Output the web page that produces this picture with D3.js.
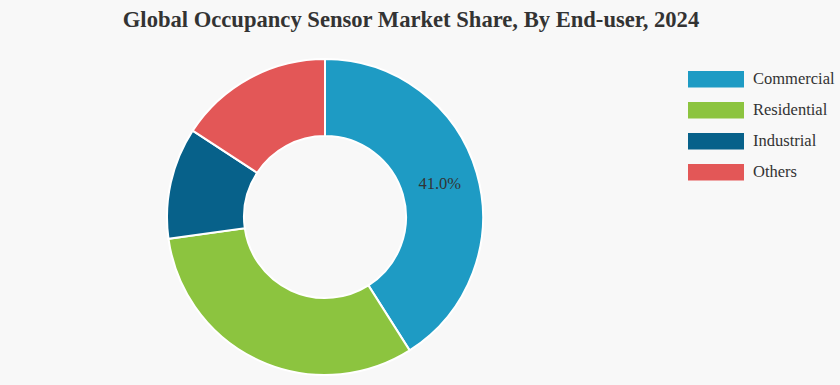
<!DOCTYPE html>
<html>
<head>
<meta charset="utf-8">
<script src="https://cdn.jsdelivr.net/npm/d3@7"></script>
<style>
  body { margin: 0; background: #f8f8f8; }
  svg { display: block; }
</style>
</head>
<body>
<div id="chart"></div>
<script>
// data
var categories = ["Commercial", "Residential", "Industrial", "Others"];
var shares = [41.0, 31.8, 11.4, 15.8];
var colors = ["#1e9bc4", "#8cc43f", "#07618a", "#e35757"];
var titleText = "Global Occupancy Sensor Market Share, By End-user, 2024";

var width = 840, height = 385;
var cx = 325, cy = 217;
var outerR = 158, innerR = 81;

var svg = d3.select("#chart")
    .append("svg")
    .attr("width", width)
    .attr("height", height);

svg.append("rect")
    .attr("width", width)
    .attr("height", height)
    .attr("fill", "#f8f8f8");

// title
svg.append("text")
    .attr("x", 411)
    .attr("y", 27)
    .attr("text-anchor", "middle")
    .style("font-family", "'Liberation Serif', 'Times New Roman', serif")
    .style("font-weight", "bold")
    .style("font-size", "22.6px")
    .attr("fill", "#333")
    .text(titleText);

var data = categories.map(function (c, i) { return {name: c, value: shares[i]}; });

var color = d3.scaleOrdinal()
    .domain(categories)
    .range(colors);

var pie = d3.pie()
    .sort(null)
    .value(function (d) { return d.value; });

var arc = d3.arc()
    .innerRadius(innerR)
    .outerRadius(outerR);

var g = svg.append("g")
    .attr("transform", "translate(" + cx + "," + cy + ")");

var arcs = pie(data);

g.selectAll("path")
    .data(arcs)
    .enter()
    .append("path")
    .attr("d", arc)
    .attr("fill", function (d) { return color(d.data.name); })
    .attr("stroke", "#ffffff")
    .attr("stroke-width", 2);

// only the biggest slice carries a label in the reference
g.selectAll("text.lbl")
    .data(arcs.filter(function (d) { return d.data.name === "Commercial"; }))
    .enter()
    .append("text")
    .attr("class", "lbl")
    .attr("transform", function (d) { return "translate(" + arc.centroid(d) + ")"; })
    .attr("text-anchor", "middle")
    .attr("dy", "0.35em")
    .style("font-family", "'Liberation Serif', 'Times New Roman', serif")
    .style("font-size", "16.5px")
    .attr("fill", "#333")
    .text(function (d) { return d.data.value.toFixed(1) + "%"; });

// legend
var legend = svg.append("g")
    .attr("transform", "translate(688,71)");

var item = legend.selectAll("g")
    .data(categories)
    .enter()
    .append("g")
    .attr("transform", function (d, i) { return "translate(0," + (i * 31) + ")"; });

item.append("rect")
    .attr("width", 56)
    .attr("height", 16.5)
    .attr("fill", function (d) { return color(d); });

item.append("text")
    .attr("x", 65)
    .attr("y", 7.5)
    .attr("dy", "0.35em")
    .style("font-family", "'Liberation Serif', 'Times New Roman', serif")
    .style("font-size", "16.5px")
    .attr("fill", "#333")
    .text(function (d) { return d; });
</script>
</body>
</html>
